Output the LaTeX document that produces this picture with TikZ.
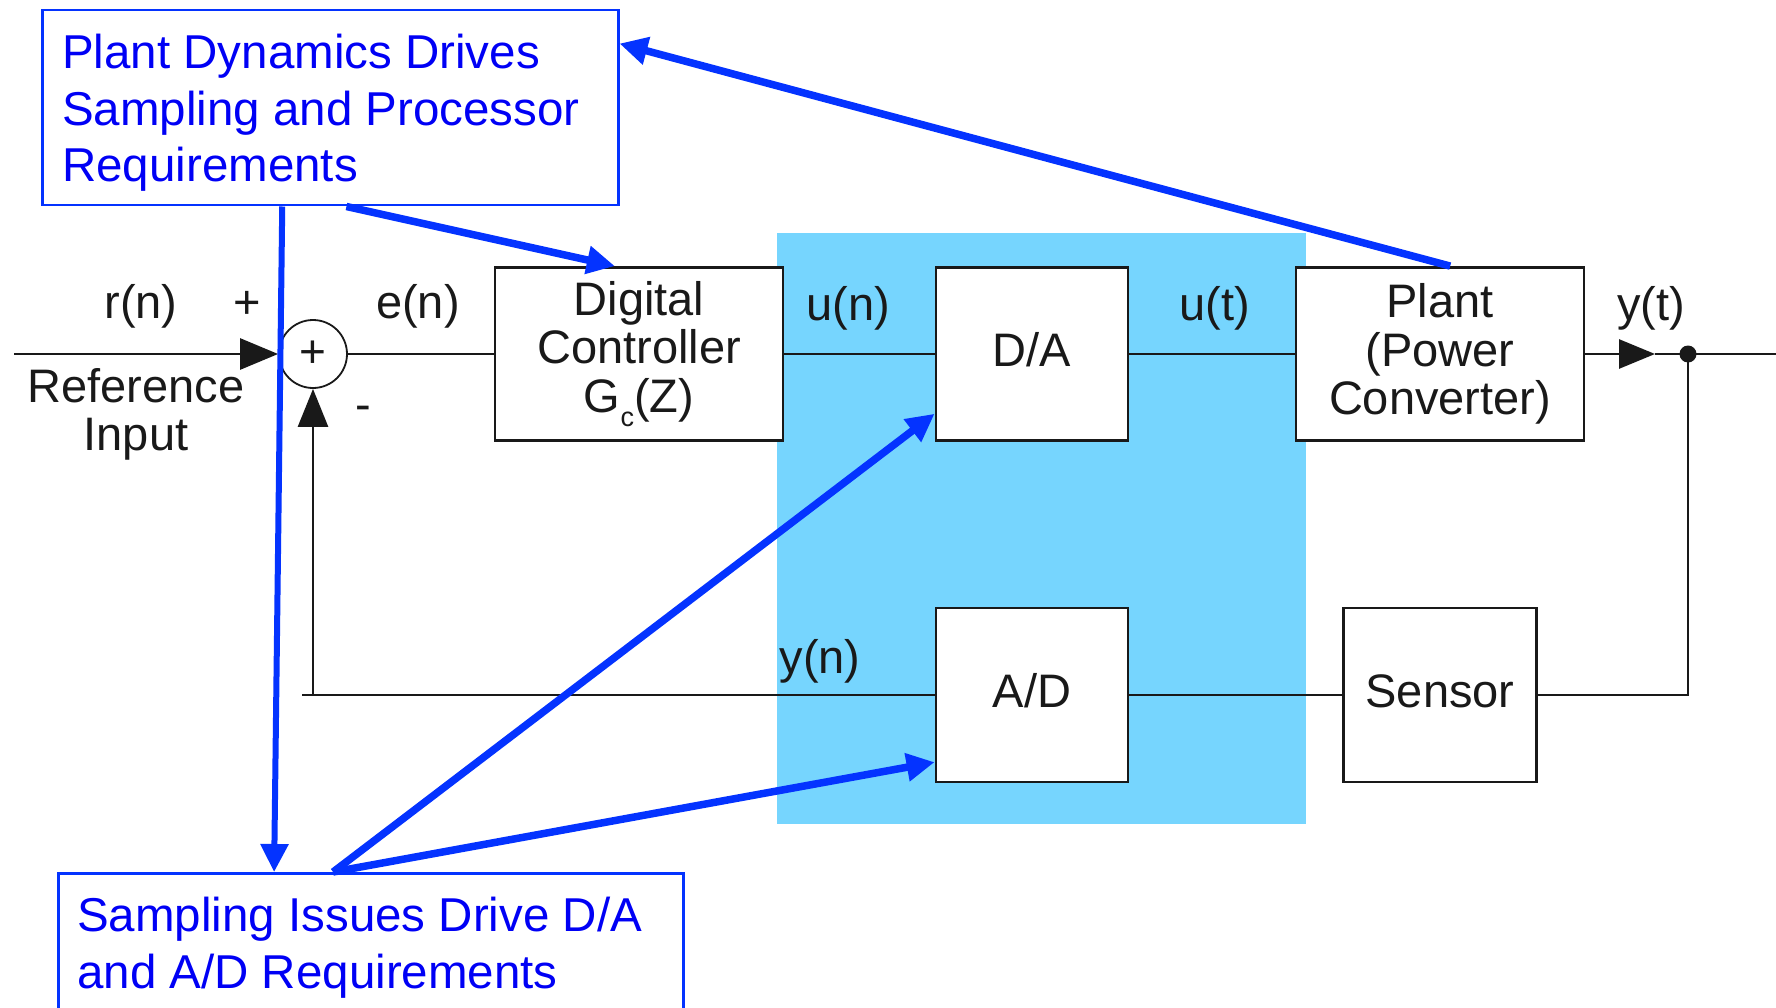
\documentclass[tikz,border=0pt]{standalone}
\usepackage{fontspec}
\setmainfont{Liberation Sans}
\usetikzlibrary{arrows.meta,calc}
\definecolor{cyanbg}{RGB}{118,213,254}
\definecolor{noteblue}{RGB}{4,51,255}
\definecolor{textblue}{RGB}{0,0,245}
\definecolor{ink}{RGB}{25,25,25}
\begin{document}
\begin{tikzpicture}[x=1pt,y=-1pt,
  blk/.style={draw=ink, line width=2.8pt, fill=white, inner sep=0pt, align=center, font=\fontsize{47}{48.5}\selectfont, text=ink},
  one/.style={text height=34pt, text depth=10pt},
  lbl/.style={inner sep=0pt, font=\fontsize{47}{48.5}\selectfont, text=ink},
  sig/.style={draw=ink, line width=2.7pt},
  sigarr/.style={sig, -{Triangle[length=38pt,width=31pt]}},
  note/.style={draw=noteblue, line width=2.5pt, inner sep=0pt},
  notetext/.style={inner sep=0pt, align=left, text=textblue, font=\fontsize{47.5}{56.6}\selectfont},
  callout/.style={draw=noteblue, line width=7.5pt, -{Triangle[length=28pt,width=27pt]}},
]
\useasboundingbox (0,0) rectangle (1776,1008);
\clip (0,0) rectangle (1776,1008);

% shaded sampling region
\fill[cyanbg] (777,233) rectangle (1306,824);

% blocks
\node[blk, minimum width=288pt, minimum height=173pt] (ctrl) at (639,354) {Digital\\Controller\\G\raisebox{-0.3em}{\fontsize{27}{27}\selectfont c}(Z)};
\node[blk, one, minimum width=192pt, minimum height=173pt] (da) at (1032,354) {D/A};
\node[blk, minimum width=288pt, minimum height=173pt] (plant) at (1440,354) {Plant\\(Power\\Converter)};
\node[blk, one, minimum width=192pt, minimum height=174pt] (ad) at (1032,695) {A/D};
\node[blk, one, minimum width=193pt, minimum height=174pt] (sensor) at (1440,695) {Sensor};
\node[circle, draw=ink, line width=1.8pt, minimum size=68pt, inner sep=0pt, fill=white, font=\fontsize{46}{46}\selectfont, text=ink] (sum) at (313,354) {+};
\node[circle, fill=ink, inner sep=0pt, minimum size=17pt] (dot) at (1688,354) {};

% free ends
\coordinate (inp) at (14,354);
\coordinate (ytip) at (1655,354);
\coordinate (outend) at (1776,354);
\coordinate (fbr) at (1688,695);
\coordinate (fbl) at (313,695);
\coordinate (fbend) at (302,695);

% signal lines
\draw[sigarr] (inp) -- (sum.west);
\draw[sig] (sum.east) -- (ctrl.west);
\draw[sig] (ctrl.east) -- (da.west);
\draw[sig] (da.east) -- (plant.west);
\draw[sig, -{Triangle[length=36pt,width=29pt]}] (plant.east) -- (ytip);
\draw[sig] (ytip) -- (outend);
\draw[sig] (dot.center) -- (fbr) -- (sensor.east);
\draw[sig] (sensor.west) -- (ad.east);
\draw[sig] (ad.west) -- (fbend);
\draw[sig, -{Triangle[length=38pt,width=30pt]}] (fbl) -- (sum.south);

% labels
\node[lbl, anchor=base] (rn) at (141,318) {r(n)};
\node[lbl] (plus) at (247,305) {+};
\node[lbl, anchor=base] (en) at (418,318) {e(n)};
\node[lbl] (minus) at (363,413) {-};
\node[lbl, anchor=north, align=center] (refin) at (136,368) {Reference\\Input};
\node[lbl, anchor=base] (un) at (848,320) {u(n)};
\node[lbl, anchor=base] (ut) at (1215,320) {u(t)};
\node[lbl, anchor=base] (yt) at (1651,320) {y(t)};
\node[lbl, anchor=base] (yn) at (820,673) {y(n)};

% notes
\node[note, anchor=north west, minimum width=576pt, minimum height=195pt] (topnote) at (41,9) {};
\node[notetext, anchor=north west] (toptext) at (62,34) {Plant Dynamics Drives\\Sampling and Processor\\Requirements};
\node[note, anchor=north west, minimum width=625pt, minimum height=180pt] (botnote) at (57,872) {};
\node[notetext, anchor=north west] (bottext) at (77,897) {Sampling Issues Drive D/A\\and A/D Requirements};

% callout arrows
\draw[callout] ($(plant.north west)!0.535!(plant.north east)$) -- ($(topnote.north east)!0.175!(topnote.south east)$);
\draw[callout] ($(topnote.south west)!0.528!(topnote.south east)$) -- ($(ctrl.north west)!0.417!(ctrl.north east)$);
\draw[callout, line width=6pt] ($(topnote.south west)!0.417!(topnote.south east)$) -- ($(botnote.north west)!0.346!(botnote.north east)$);
\draw[callout] ($(botnote.north west)!0.44!(botnote.north east)$) -- ($(da.north west)!0.84!(da.south west)$);
\draw[callout] ($(botnote.north west)!0.44!(botnote.north east)$) -- ($(ad.north west)!0.88!(ad.south west)$);
\end{tikzpicture}
\end{document}
